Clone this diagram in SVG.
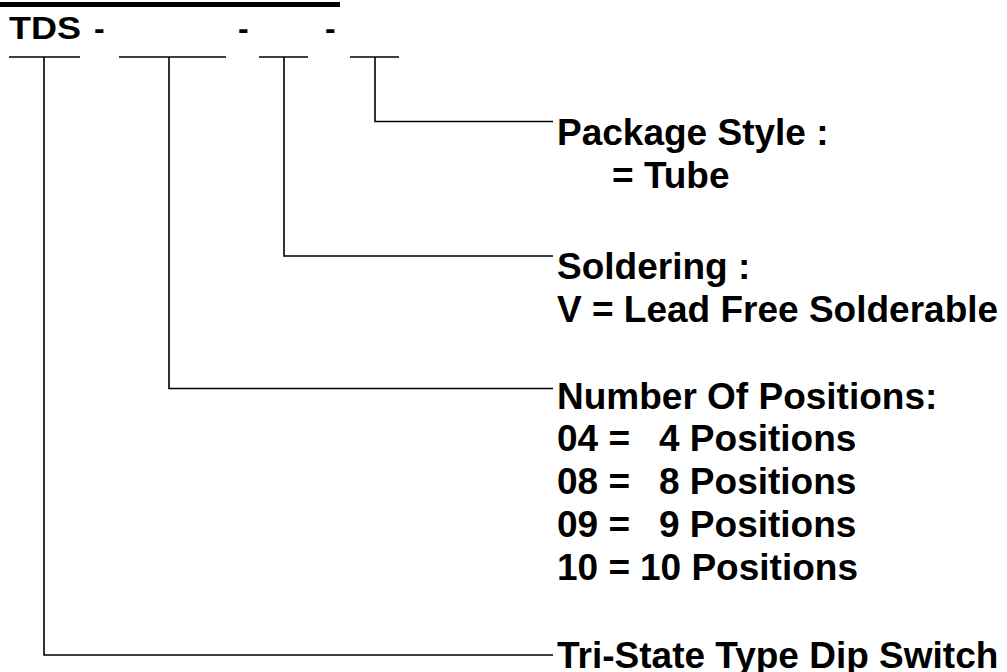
<svg xmlns="http://www.w3.org/2000/svg" width="1007" height="672" viewBox="0 0 1007 672">
<style>
.t{font-family:"Liberation Sans",Arial,sans-serif;font-weight:bold;font-size:37px;fill:#000}
.h{font-family:"Liberation Sans",Arial,sans-serif;font-weight:bold;font-size:32px;fill:#000}
.ln{stroke:#000;stroke-width:1.6;fill:none}
</style>
<rect width="1007" height="672" fill="#fff"/>
<g id="header">
<rect x="0" y="2" width="340" height="5" fill="#000"/>
<text class="h" x="9" y="38.5" textLength="72" lengthAdjust="spacingAndGlyphs">TDS</text>
<text class="h" x="94" y="38.5">-</text>
<text class="h" x="238" y="38.5">-</text>
<text class="h" x="325" y="38.5">-</text>
</g>
<g id="connectors">
<path class="ln" d="M9 57H80M119 57H226M259 57H308M350 57H399"/>
<path class="ln" d="M375 57V121.5H553"/>
<path class="ln" d="M284 57V256H553"/>
<path class="ln" d="M169 57V388.5H553"/>
<path class="ln" d="M44 57V655H553"/>
</g>
<g id="package">
<text class="t" x="557" y="145">Package Style :</text>
<text class="t" x="612" y="188">= Tube</text>
</g>
<g id="soldering">
<text class="t" x="557" y="279">Soldering :</text>
<text class="t" x="557" y="322">V = Lead Free Solderable</text>
</g>
<g id="positions">
<text class="t" x="557" y="409">Number Of Positions:</text>
<text class="t" x="557" y="451">04 =</text><text class="t" x="659" y="451">4 Positions</text>
<text class="t" x="557" y="494">08 =</text><text class="t" x="659" y="494">8 Positions</text>
<text class="t" x="557" y="537">09 =</text><text class="t" x="659" y="537">9 Positions</text>
<text class="t" x="557" y="580">10 =</text><text class="t" x="640" y="580">10 Positions</text>
</g>
<g id="type">
<text class="t" x="557" y="668">Tri-State Type Dip Switch</text>
</g>
</svg>
